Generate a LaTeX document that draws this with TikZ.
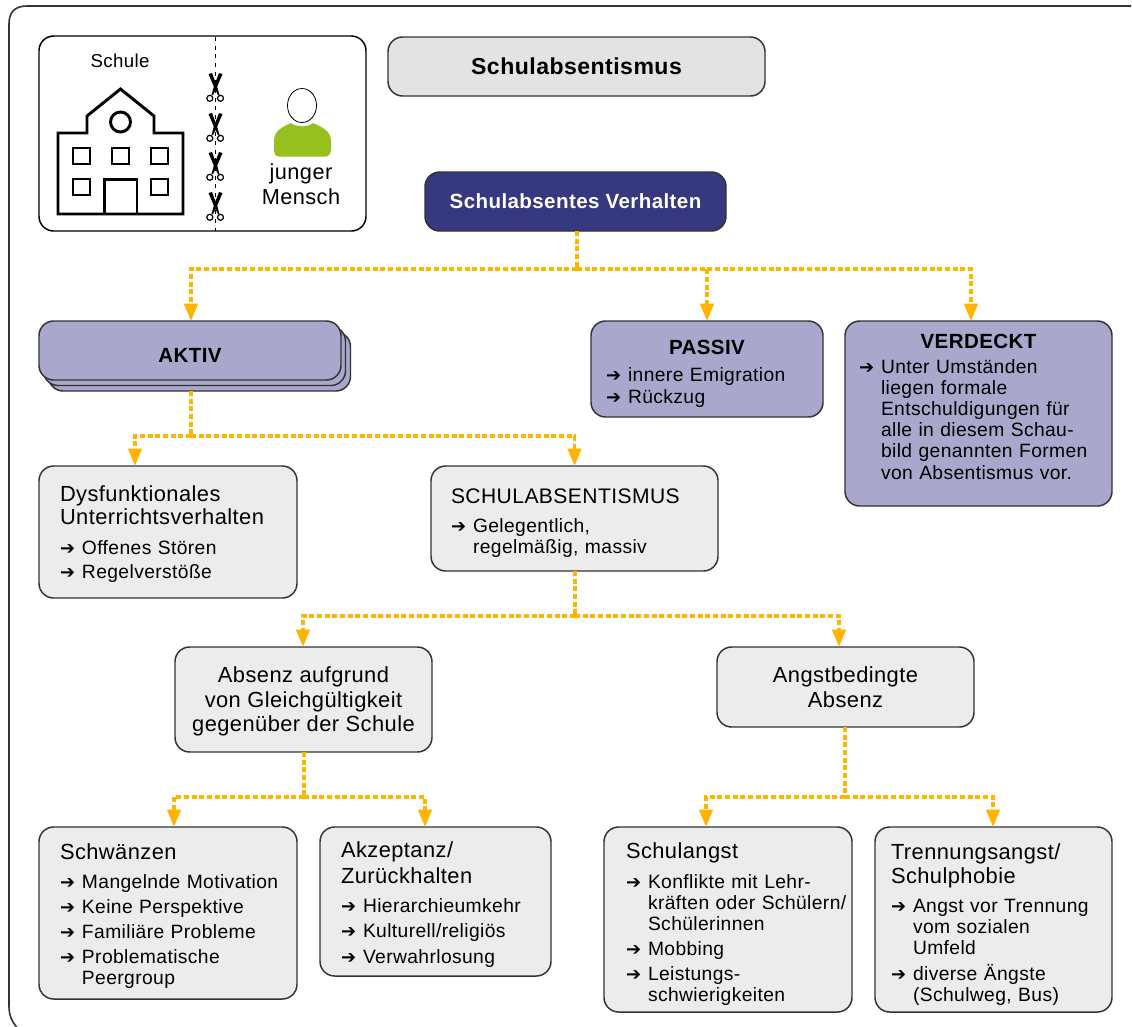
\documentclass[tikz,border=0pt]{standalone}
\usepackage{fontspec}
\setmainfont[LetterSpace=2]{Liberation Sans}
\newfontfamily\arrfont{DejaVu Sans}
\usetikzlibrary{arrows.meta}
\definecolor{conncol}{HTML}{FFB400}
\definecolor{navy}{HTML}{36397F}
\definecolor{lilac}{HTML}{A9A7CC}
\definecolor{lightbox}{HTML}{ECECEC}
\definecolor{titlebox}{HTML}{E3E3E3}
\definecolor{edgecol}{HTML}{333333}
\definecolor{personcol}{HTML}{97BF1E}
\newcommand\fhead{\fontsize{16.4}{17.3}\selectfont}
\newcommand\fbody{\fontsize{14.45}{15.9}\selectfont}
\newcommand\fbold{\bfseries\fontsize{15.4}{18}\selectfont}
\newcommand\itm[1]{\mbox{\makebox[16.5pt][l]{{\arrfont\fontsize{13.5}{12}\selectfont ➔}}#1}}
\newcommand\cnt[1]{\mbox{\hspace*{16.5pt}#1}}
\newcommand\ctr[1]{\makebox[\linewidth][c]{#1}}
% invisible struts that push a node's text down or up by half of their argument
\newcommand\toppad[1]{\rule{0pt}{\dimexpr 12pt+#1\relax}}
\newcommand\botpad[1]{\rule[\dimexpr -3pt-#1\relax]{0pt}{1pt}}
\tikzset{
  x=0.75pt,y=-0.75pt,
  boxbase/.style={draw=edgecol,line width=1.1pt,rounded corners=11pt,inner sep=0pt,outer sep=0pt},
  lightnode/.style={boxbase,fill=lightbox,align=left,font=\fbody},
  lilacnode/.style={boxbase,fill=lilac,align=left,font=\fbody},
  conn/.style={draw=conncol,line width=2.5pt,dash pattern=on 3.75pt off 2pt},
  connarrow/.style={conn,-{Triangle[width=10pt,length=13pt]}},
  house/.style={draw=black,line width=2.2pt,line join=miter},
  cutline/.style={draw=black,line width=0.9pt,dash pattern=on 3pt off 3.5pt},
  bladefill/.style={fill=black},
  loop/.style={draw=black,line width=0.9pt,fill=white},
}
\begin{document}
\begin{tikzpicture}
\useasboundingbox (0,0) rectangle (1132,1026);
% frame
\draw[draw=edgecol,line width=1.2pt] (19,1030) .. controls (12,1022) and (9,1016) .. (9,1006) -- (9,24) .. controls (9,12) and (15,6) .. (27,6) -- (1131,6);
% top-left panel
\node[boxbase,draw=black,fill=white,minimum width=245.25pt,minimum height=146.25pt] (panel) at (202.5,133.5) {};
\draw[cutline] (215.5,37) -- (215.5,231);
\node[font=\fontsize{14}{15}\selectfont] (schule) at (120,61) {Schule};
% house
\draw[house] (58,214) -- (58,133) -- (87,133) -- (87,116) -- (120.5,89) -- (154,116) -- (154,133) -- (183,133) -- (183,214) -- cycle;
\draw[house] (120.5,122) circle (10);
\foreach \xa/\ya in {73/148,112/148,151/148,73/179,151/179}
  \draw[house] (\xa,\ya) rectangle ++(17,16);
\draw[house] (104.5,214) -- (104.5,179.5) -- (137,179.5) -- (137,214);
% scissors
\foreach \yy in {87,127,166,206}{
  \fill[bladefill] (208.5,\yy-13) -- (212,\yy-14) -- (217,\yy-1) -- (219.5,\yy+8) -- (218,\yy+8) -- (214,\yy) -- cycle;
  \fill[bladefill] (222.5,\yy-13) -- (219,\yy-14) -- (214,\yy-1) -- (211.5,\yy+8) -- (213,\yy+8) -- (217,\yy) -- cycle;
  \draw[loop] (209.8,\yy+11.3) circle (3);
  \draw[loop] (220.5,\yy+11.3) circle (3);
}
% person
\fill[personcol] (279,156.5) .. controls (275,156.5) and (274,153) .. (274,149) -- (274,141)
  .. controls (274,131) and (282,127) .. (291,123) .. controls (296,127.5) and (308,127.5) .. (313,123)
  .. controls (322,127) and (331,131) .. (331,141) -- (331,149) .. controls (331,153) and (329,156.5) .. (326,156.5) -- cycle;
\draw[draw=black,line width=0.6pt,fill=white] (302,105.5) ellipse (14.5 and 17);
\node[align=center,font=\fontsize{16.3}{18}\selectfont] (mensch) at (301,184.5) {junger\\[0.5pt]Mensch};
% title
\node[boxbase,fill=titlebox,minimum width=282.75pt,minimum height=44.25pt,font=\bfseries\fontsize{17.3}{20}\selectfont] (title) at (576.5,66.5) {\raisebox{0.75pt}{Schulabsentismus}};
\node[boxbase,fill=navy,text=white,minimum width=225.75pt,minimum height=44.25pt,font=\fbold] (verhalten) at (575.5,201.5) {Schulabsentes Verhalten};
% aktiv stack
\node[boxbase,fill=lilac,minimum width=226.5pt,minimum height=44.25pt] (aktivc) at (199.5,361.5) {};
\node[boxbase,fill=lilac,minimum width=226.5pt,minimum height=44.25pt] (aktivb) at (194.5,356) {};
\node[boxbase,fill=lilac,minimum width=226.5pt,minimum height=44.25pt,font=\fbold] (aktiv) at (190,350.5) {\toppad{6pt}AKTIV};
% passiv
\node[lilacnode,minimum width=174pt,minimum height=72pt,text width=151.5pt] (passiv) at (707,369) {\toppad{6pt}\ctr{\fbold PASSIV}\\[4.3pt]\itm{innere Emigration}\\\itm{Rückzug}};
% verdeckt
\node[lilacnode,minimum width=200.25pt,minimum height=138.75pt,text width=179.25pt] (verdeckt) at (978.5,413.5) {\ctr{\fbold VERDECKT}\\[2.8pt]\itm{Unter Umständen}\\\cnt{liegen formale}\\\cnt{Entschuldigungen für}\\\cnt{alle in diesem Schau-}\\\cnt{bild genannten Formen}\\\cnt{von Absentismus vor.}\botpad{7.5pt}};
% dysfunktional
\node[lightnode,minimum width=193.5pt,minimum height=99pt,text width=162pt] (dys) at (168,532) {\toppad{3pt}{\fhead Dysfunktionales\par}\fhead Unterrichtsverhalten\\[6.9pt]\fbody\itm{Offenes Stören}\\[2.1pt]\itm{Regelverstöße}};
% schulabsentismus
\node[lightnode,minimum width=215.25pt,minimum height=78.75pt,text width=185.25pt] (schabs) at (574.5,518.5) {\toppad{6pt}{\fontsize{15.8}{17.3}\selectfont SCHULABSENTISMUS}\\[5.9pt]\fbody\itm{Gelegentlich,}\\\cnt{regelmäßig, massiv}};
% absenz
\node[boxbase,fill=lightbox,align=center,minimum width=192.75pt,minimum height=78.75pt,font=\fontsize{16.4}{18.4}\selectfont] (absenz) at (303.5,699.5) {\toppad{3pt}Absenz aufgrund\\von Gleichgültigkeit\\gegenüber der Schule};
\node[boxbase,fill=lightbox,align=center,minimum width=192.75pt,minimum height=60pt,font=\fontsize{16.4}{18.4}\selectfont] (angst) at (845.5,687) {Angstbedingte\\Absenz};
% leaves
\node[lightnode,minimum width=193.5pt,minimum height=129pt,text width=162pt] (schw) at (168,913) {\toppad{4.5pt}\fhead Schwänzen\\[5.9pt]\fbody\itm{Mangelnde Motivation}\\[2.9pt]\itm{Keine Perspektive}\\[2.9pt]\itm{Familiäre Probleme}\\[2.9pt]\itm{Problematische}\\\cnt{Peergroup}};
\node[lightnode,minimum width=173.25pt,minimum height=111.75pt,text width=141.75pt] (akz) at (435.5,901.5) {\toppad{4.2pt}{\fhead Akzeptanz/\par}\vspace{2pt}\fhead Zurückhalten\\[5.8pt]\fbody\itm{Hierarchieumkehr}\\[3.2pt]\itm{Kulturell/religiös}\\[3.2pt]\itm{Verwahrlosung}};
\node[lightnode,minimum width=186pt,minimum height=138.75pt,text width=153pt] (sangst) at (728,919.5) {\toppad{6.75pt}\fhead Schulangst\\[6.6pt]\fbody\itm{Konflikte mit Lehr-}\\\cnt{kräften oder Schülern/}\\\cnt{Schülerinnen}\\[2.9pt]\itm{Mobbing}\\[2.9pt]\itm{Leistungs-}\\\cnt{schwierigkeiten}};
\node[lightnode,minimum width=177.75pt,minimum height=138.75pt,text width=153.75pt] (trenn) at (993.5,919.5) {\toppad{7.5pt}{\fhead Trennungsangst/\par}\vspace{0.75pt}\fhead Schulphobie\\[5.9pt]\fbody\itm{Angst vor Trennung}\\\cnt{vom sozialen}\\\cnt{Umfeld}\\[3.6pt]\itm{diverse Ängste}\\\cnt{(Schulweg, Bus)}};
% connectors
\coordinate (j1) at (577,269);
\coordinate (t1a) at (191,321);
\coordinate (t1c) at (971,321);
\draw[conn] (verhalten.south -| j1) -- (j1);
\draw[connarrow] (j1) -| (t1a);
\draw[connarrow] (j1) -| (passiv.north);
\draw[connarrow] (j1) -| (t1c);
\coordinate (s1) at (191,391);
\coordinate (j2) at (191,436);
\coordinate (t2a) at (135,466);
\draw[conn] (s1) -- (j2);
\draw[connarrow] (j2) -| (t2a);
\draw[connarrow] (j2) -| (schabs.north);
\coordinate (j3) at (575,616);
\coordinate (t3a) at (303,647);
\coordinate (t3b) at (839,647);
\draw[conn] (schabs.south -| j3) -- (j3);
\draw[connarrow] (j3) -| (t3a);
\draw[connarrow] (j3) -| (t3b);
\coordinate (j4) at (304,797);
\coordinate (t4a) at (174,827);
\coordinate (t4b) at (425,827);
\draw[conn] (absenz.south -| j4) -- (j4);
\draw[connarrow] (j4) -| (t4a);
\draw[connarrow] (j4) -| (t4b);
\coordinate (j5) at (845,797);
\coordinate (t5a) at (706,827);
\coordinate (t5b) at (993,827);
\draw[conn] (angst.south -| j5) -- (j5);
\draw[connarrow] (j5) -| (t5a);
\draw[connarrow] (j5) -| (t5b);
\end{tikzpicture}
\end{document}
